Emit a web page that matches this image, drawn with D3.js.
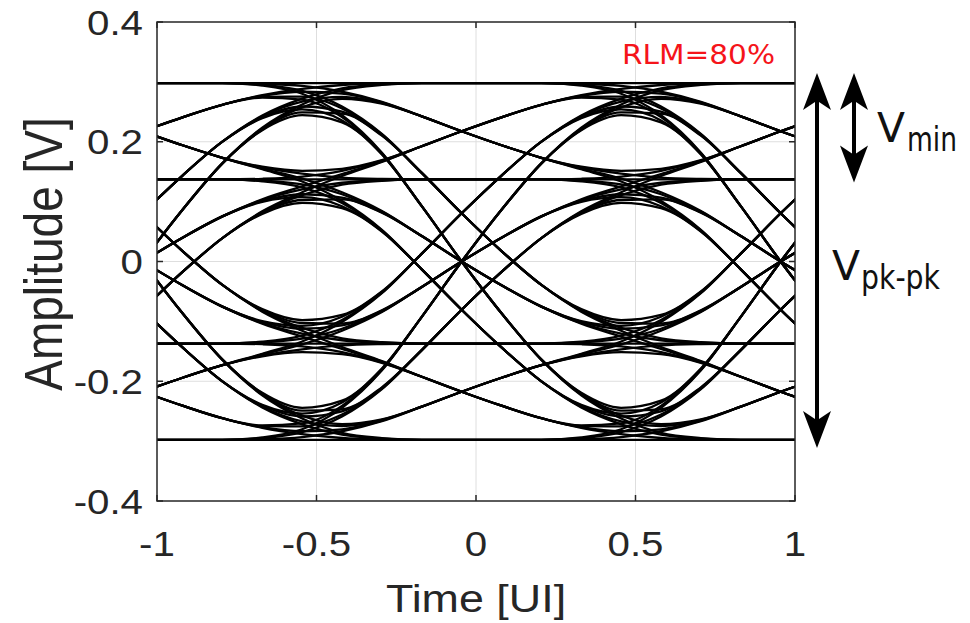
<!DOCTYPE html>
<html>
<head>
<meta charset="utf-8">
<script src="https://cdn.jsdelivr.net/npm/d3@7"></script>
<style>
  html, body { margin: 0; padding: 0; background: #fff; }
  svg { display: block; }
</style>
</head>
<body>
<svg id="chart" width="970" height="623"></svg>
<script>
// PAM4 eye diagram, levels in volts
var levels = [-0.298, -0.137, 0.137, 0.298];

// symbol stream (index into levels), wrapped round when cut into 2-UI windows
var symbols = [0, 0, 0, 1, 0, 0, 2, 0, 0, 3, 0, 1, 1, 0, 1, 2, 0, 1, 3, 0, 2, 1, 0, 2,
               2, 0, 2, 3, 0, 3, 1, 0, 3, 2, 0, 3, 3, 1, 1, 1, 2, 1, 1, 3, 1, 2, 2, 1,
               2, 3, 1, 3, 2, 1, 3, 3, 2, 2, 2, 3, 2, 3, 3, 3];

// edge (step) response: offset from edge [UI] -> fraction of swing
var stepTau = [-0.75, -0.625, -0.5, -0.375, -0.25, -0.125, 0, 0.125, 0.25, 0.375, 0.5, 0.625, 0.75, 0.875];
var stepResp = [0, 0.007, 0.03, 0.09, 0.195, 0.345, 0.5, 0.645, 0.775, 0.875, 0.94, 0.98, 0.995, 1];
var edgeTime = -0.045;

var xTicks = [-1, -0.5, 0, 0.5, 1];
var xTickLabels = ["-1", "-0.5", "0", "0.5", "1"];
var yTicks = [-0.4, -0.2, 0, 0.2, 0.4];
var yTickLabels = ["-0.4", "-0.2", "0", "0.2", "0.4"];

var svg = d3.select("#chart");
var box = { left: 157, right: 795, top: 22, bottom: 501 };
var axisColor = "#262626";
var stretch = 1.15; // the source picture is widened a little

var x = d3.scaleLinear().domain([-1, 1]).range([box.left, box.right]);
var y = d3.scaleLinear().domain([-0.4, 0.4]).range([box.bottom, box.top]);
var step = d3.scaleLinear().domain(stepTau).range(stepResp).clamp(true);

svg.append("defs").append("clipPath").attr("id", "plotClip")
    .append("rect")
    .attr("x", box.left).attr("y", box.top)
    .attr("width", box.right - box.left).attr("height", box.bottom - box.top);

// grid
var grid = svg.append("g").attr("stroke", "#dedede").attr("stroke-width", 1);
grid.selectAll("line.gx").data(xTicks.slice(1, -1)).enter().append("line")
    .attr("x1", function (d) { return x(d); }).attr("x2", function (d) { return x(d); })
    .attr("y1", box.top).attr("y2", box.bottom);
grid.selectAll("line.gy").data(yTicks.slice(1, -1)).enter().append("line")
    .attr("y1", function (d) { return y(d); }).attr("y2", function (d) { return y(d); })
    .attr("x1", box.left).attr("x2", box.right);

// traces: one per 2-UI window of four symbols
var sampleT = d3.range(-1, 18).map(function (j) { return edgeTime - 1 + 0.125 * j; });
var traces = d3.range(symbols.length).map(function (i) {
    var win = [0, 1, 2, 3].map(function (k) { return symbols[(i + k) % symbols.length]; });
    return sampleT.map(function (t) {
        var v = levels[win[0]];
        for (var e = 0; e < 3; e++) {
            v += (levels[win[e + 1]] - levels[win[e]]) * step(t - (edgeTime - 1 + e));
        }
        return [t, v];
    });
});

var line = d3.line()
    .x(function (d) { return x(d[0]); })
    .y(function (d) { return y(d[1]); })
    .curve(d3.curveMonotoneX);

svg.append("g").attr("clip-path", "url(#plotClip)")
    .selectAll("path").data(traces).enter().append("path")
    .attr("d", line)
    .attr("fill", "none")
    .attr("stroke", "#000")
    .attr("stroke-width", 2.3);

// axes box and inward ticks
var axes = svg.append("g").attr("stroke", axisColor).attr("stroke-width", 1.5).attr("fill", "none");
axes.append("rect")
    .attr("x", box.left).attr("y", box.top)
    .attr("width", box.right - box.left).attr("height", box.bottom - box.top);
var tickLen = 6;
xTicks.forEach(function (d) {
    axes.append("line").attr("x1", x(d)).attr("x2", x(d)).attr("y1", box.bottom).attr("y2", box.bottom - tickLen);
    axes.append("line").attr("x1", x(d)).attr("x2", x(d)).attr("y1", box.top).attr("y2", box.top + tickLen);
});
yTicks.forEach(function (d) {
    axes.append("line").attr("y1", y(d)).attr("y2", y(d)).attr("x1", box.left).attr("x2", box.left + tickLen);
    axes.append("line").attr("y1", y(d)).attr("y2", y(d)).attr("x1", box.right).attr("x2", box.right - tickLen);
});

// tick labels
var labelFont = "'Liberation Sans', Arial, Helvetica, sans-serif";
svg.append("g").selectAll("text").data(yTicks).enter().append("text")
    .attr("transform", function (d) { return "translate(143," + y(d) + ") scale(" + stretch + ",1)"; })
    .attr("dy", "0.36em")
    .attr("text-anchor", "end")
    .attr("font-family", labelFont).attr("font-size", 35).attr("fill", axisColor)
    .text(function (d, i) { return yTickLabels[i]; });

svg.append("g").selectAll("text").data(xTicks).enter().append("text")
    .attr("transform", function (d) { return "translate(" + x(d) + ",556) scale(" + stretch + ",1)"; })
    .attr("text-anchor", "middle")
    .attr("font-family", labelFont).attr("font-size", 35).attr("fill", axisColor)
    .text(function (d, i) { return xTickLabels[i]; });

// axis titles
svg.append("text")
    .attr("transform", "translate(476,612) scale(" + stretch + ",1)")
    .attr("text-anchor", "middle")
    .attr("font-family", labelFont).attr("font-size", 39).attr("fill", axisColor)
    .text("Time [UI]");

svg.append("text")
    .attr("transform", "translate(62,254) rotate(-90) scale(1," + stretch + ")")
    .attr("text-anchor", "middle")
    .attr("font-family", labelFont).attr("font-size", 46).attr("fill", axisColor)
    .text("Amplitude [V]");

// RLM note
svg.append("text")
    .attr("x", 622).attr("y", 64)
    .attr("font-family", "'DejaVu Sans', Verdana, sans-serif").attr("font-size", 27)
    .attr("textLength", 153).attr("lengthAdjust", "spacingAndGlyphs")
    .attr("fill", "#f5141a")
    .text("RLM=80%");

// double-headed arrows for Vpk-pk and Vmin
function arrow(g, ax, yTop, yBot) {
    var hw = 14, hh = 37, sw = 4;
    g.append("path")
        .attr("d", "M" + ax + "," + yTop + "L" + (ax + hw) + "," + (yTop + hh) + "L" + (ax + sw / 2) + "," + (yTop + hh - 8) +
            "L" + (ax + sw / 2) + "," + (yBot - hh + 8) + "L" + (ax + hw) + "," + (yBot - hh) + "L" + ax + "," + yBot +
            "L" + (ax - hw) + "," + (yBot - hh) + "L" + (ax - sw / 2) + "," + (yBot - hh + 8) +
            "L" + (ax - sw / 2) + "," + (yTop + hh - 8) + "L" + (ax - hw) + "," + (yTop + hh) + "Z")
        .attr("fill", "#000");
}
var notes = svg.append("g");
arrow(notes, 817, y(levels[3]) - 10, y(levels[0]) + 8);
arrow(notes, 854, y(levels[3]) - 10, y(levels[2]) + 3);

var noteFont = "'DejaVu Sans', Verdana, sans-serif";
notes.append("text").attr("x", 877).attr("y", 142)
    .attr("font-family", noteFont).attr("font-size", 41).attr("fill", "#111")
    .attr("textLength", 28).attr("lengthAdjust", "spacingAndGlyphs").text("V");
notes.append("text").attr("x", 907).attr("y", 151)
    .attr("font-family", noteFont).attr("font-size", 33).attr("fill", "#111")
    .attr("textLength", 50).attr("lengthAdjust", "spacingAndGlyphs").text("min");
notes.append("text").attr("x", 832).attr("y", 280)
    .attr("font-family", noteFont).attr("font-size", 41).attr("fill", "#111")
    .attr("textLength", 28).attr("lengthAdjust", "spacingAndGlyphs").text("V");
notes.append("text").attr("x", 861).attr("y", 289)
    .attr("font-family", noteFont).attr("font-size", 33).attr("fill", "#111")
    .attr("textLength", 79).attr("lengthAdjust", "spacingAndGlyphs").text("pk-pk");
</script>
</body>
</html>
